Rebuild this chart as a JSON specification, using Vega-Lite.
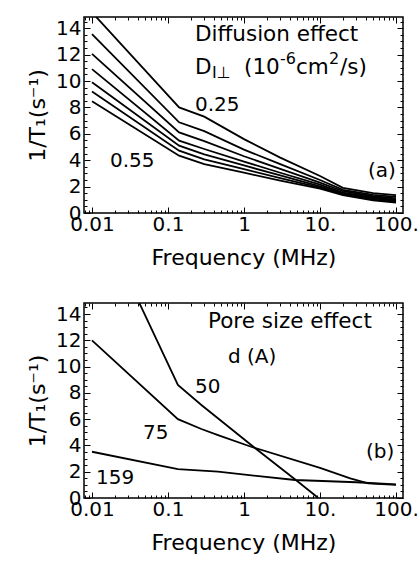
{
  "$schema": "https://vega.github.io/schema/vega-lite/v6.json",
  "padding": {"left": 25, "top": 10, "right": 5, "bottom": 5},
  "spacing": 27,
  "config": {
    "view": {"stroke": "black", "strokeWidth": 1.5},
    "font": "DejaVu Sans",
    "axis": {
      "domain": false, "grid": false, "tickColor": "black", "tickWidth": 1,
      "labelFont": "DejaVu Sans", "labelFontSize": 20, "labelColor": "black",
      "titleFont": "DejaVu Sans", "titleFontSize": 22, "titleFontWeight": "normal", "titleColor": "black",
      "labelFlush": false, "labelOverlap": false
    },
    "text": {"font": "DejaVu Sans", "color": "black"}
  },
  "vconcat": [
    {
      "width": 319, "height": 196,
      "data": {"values": [
        {"c": "1", "f": 0.01, "v": 15.2}, {"c": "1", "f": 0.14, "v": 8.0}, {"c": "1", "f": 0.3, "v": 7.3}, {"c": "1", "f": 1, "v": 5.6}, {"c": "1", "f": 3, "v": 4.2}, {"c": "1", "f": 10, "v": 2.8}, {"c": "1", "f": 20, "v": 1.9}, {"c": "1", "f": 50, "v": 1.5}, {"c": "1", "f": 100, "v": 1.35},
        {"c": "2", "f": 0.01, "v": 13.56}, {"c": "2", "f": 0.14, "v": 6.87}, {"c": "2", "f": 0.3, "v": 6.2}, {"c": "2", "f": 1, "v": 4.8}, {"c": "2", "f": 3, "v": 3.7}, {"c": "2", "f": 10, "v": 2.5}, {"c": "2", "f": 20, "v": 1.75}, {"c": "2", "f": 50, "v": 1.38}, {"c": "2", "f": 100, "v": 1.22},
        {"c": "3", "f": 0.01, "v": 12.05}, {"c": "3", "f": 0.14, "v": 6.11}, {"c": "3", "f": 0.3, "v": 5.45}, {"c": "3", "f": 1, "v": 4.3}, {"c": "3", "f": 3, "v": 3.35}, {"c": "3", "f": 10, "v": 2.3}, {"c": "3", "f": 20, "v": 1.65}, {"c": "3", "f": 50, "v": 1.27}, {"c": "3", "f": 100, "v": 1.1},
        {"c": "4", "f": 0.01, "v": 10.9}, {"c": "4", "f": 0.14, "v": 5.48}, {"c": "4", "f": 0.3, "v": 4.85}, {"c": "4", "f": 1, "v": 3.9}, {"c": "4", "f": 3, "v": 3.05}, {"c": "4", "f": 10, "v": 2.15}, {"c": "4", "f": 20, "v": 1.55}, {"c": "4", "f": 50, "v": 1.18}, {"c": "4", "f": 100, "v": 1.0},
        {"c": "5", "f": 0.01, "v": 9.9}, {"c": "5", "f": 0.14, "v": 5.1}, {"c": "5", "f": 0.3, "v": 4.45}, {"c": "5", "f": 1, "v": 3.6}, {"c": "5", "f": 3, "v": 2.85}, {"c": "5", "f": 10, "v": 2.02}, {"c": "5", "f": 20, "v": 1.48}, {"c": "5", "f": 50, "v": 1.1}, {"c": "5", "f": 100, "v": 0.92},
        {"c": "6", "f": 0.01, "v": 9.2}, {"c": "6", "f": 0.14, "v": 4.72}, {"c": "6", "f": 0.3, "v": 4.07}, {"c": "6", "f": 1, "v": 3.32}, {"c": "6", "f": 3, "v": 2.65}, {"c": "6", "f": 10, "v": 1.93}, {"c": "6", "f": 20, "v": 1.42}, {"c": "6", "f": 50, "v": 1.02}, {"c": "6", "f": 100, "v": 0.85},
        {"c": "7", "f": 0.01, "v": 8.46}, {"c": "7", "f": 0.14, "v": 4.34}, {"c": "7", "f": 0.3, "v": 3.7}, {"c": "7", "f": 1, "v": 3.05}, {"c": "7", "f": 3, "v": 2.45}, {"c": "7", "f": 10, "v": 1.85}, {"c": "7", "f": 20, "v": 1.35}, {"c": "7", "f": 50, "v": 0.95}, {"c": "7", "f": 100, "v": 0.78}
      ]},
      "resolve": {"axis": {"x": "independent", "y": "independent"}},
      "layer": [
        {
          "mark": {"type": "line", "color": "black", "strokeWidth": 1.8, "clip": true},
          "encoding": {
            "x": {"field": "f", "type": "quantitative",
              "scale": {"type": "log", "domain": [0.00785, 123.6], "nice": false},
              "axis": {"orient": "bottom", "title": "Frequency (MHz)", "titlePadding": 10, "labelPadding": 7,
                "values": [0.008,0.009,0.01,0.02,0.03,0.04,0.05,0.06,0.07,0.08,0.09,0.1,0.2,0.3,0.4,0.5,0.6,0.7,0.8,0.9,1,2,3,4,5,6,7,8,9,10,20,30,40,50,60,70,80,90,100],
                "labelExpr": "datum.value == 0.01 ? '0.01' : datum.value == 0.1 ? '0.1' : datum.value == 1 ? '1' : datum.value == 10 ? '10.' : datum.value == 100 ? '100.' : ''",
                "tickSize": {"condition": {"test": "indexof([0.01,0.1,1,10,100], datum.value) >= 0", "value": -6}, "value": -3}}},
            "y": {"field": "v", "type": "quantitative",
              "scale": {"domain": [0, 14.85], "nice": false, "zero": false},
              "axis": {"orient": "left", "title": "1/T₁(s⁻¹)", "titlePadding": 6, "labelPadding": 9,
                "values": [0,0.5,1,1.5,2,2.5,3,3.5,4,4.5,5,5.5,6,6.5,7,7.5,8,8.5,9,9.5,10,10.5,11,11.5,12,12.5,13,13.5,14,14.5],
                "labelExpr": "datum.value % 2 == 0 ? '' + datum.value : ''",
                "tickSize": {"condition": {"test": "datum.value % 2 == 0", "value": -6}, "value": -3}}},
            "detail": {"field": "c"}
          }
        },
        {
          "data": {"values": [
            {"t": "0.25", "f": 0.2265, "v": 7.73},
            {"t": "0.55", "f": 0.01725, "v": 3.46},
            {"t": "(a)", "f": 42.7, "v": 2.73}
          ]},
          "mark": {"type": "text", "fontSize": 20, "align": "left", "baseline": "alphabetic"},
          "encoding": {
            "x": {"field": "f", "type": "quantitative",
              "axis": {"orient": "top", "title": null, "labels": false,
                "values": [0.008,0.009,0.01,0.02,0.03,0.04,0.05,0.06,0.07,0.08,0.09,0.1,0.2,0.3,0.4,0.5,0.6,0.7,0.8,0.9,1,2,3,4,5,6,7,8,9,10,20,30,40,50,60,70,80,90,100],
                "tickSize": {"condition": {"test": "indexof([0.01,0.1,1,10,100], datum.value) >= 0", "value": -6}, "value": -3}}},
            "y": {"field": "v", "type": "quantitative",
              "axis": {"orient": "right", "title": null, "labels": false,
                "values": [0,0.5,1,1.5,2,2.5,3,3.5,4,4.5,5,5.5,6,6.5,7,7.5,8,8.5,9,9.5,10,10.5,11,11.5,12,12.5,13,13.5,14,14.5],
                "tickSize": {"condition": {"test": "datum.value % 2 == 0", "value": -6}, "value": -3}}},
            "text": {"field": "t"}
          }
        },
        {
          "data": {"values": [
            {"t": "Diffusion effect", "f": 0.2265, "v": 13.03},
            {"t": "D", "f": 0.2265, "v": 10.53},
            {"t": "(10", "f": 1.0, "v": 10.53},
            {"t": "cm", "f": 4.833, "v": 10.53},
            {"t": "/s)", "f": 18.33, "v": 10.53}
          ]},
          "mark": {"type": "text", "fontSize": 21.5, "align": "left", "baseline": "alphabetic"},
          "encoding": {
            "x": {"field": "f", "type": "quantitative", "axis": null},
            "y": {"field": "v", "type": "quantitative", "axis": null},
            "text": {"field": "t"}
          }
        },
        {
          "data": {"values": [
            {"t": "I⊥", "f": 0.3793, "v": 10.23},
            {"t": "-6", "f": 2.977, "v": 11.29},
            {"t": "2", "f": 13.13, "v": 11.29}
          ]},
          "mark": {"type": "text", "fontSize": 16, "align": "left", "baseline": "alphabetic"},
          "encoding": {
            "x": {"field": "f", "type": "quantitative", "axis": null},
            "y": {"field": "v", "type": "quantitative", "axis": null},
            "text": {"field": "t"}
          }
        }
      ]
    },
    {
      "width": 319, "height": 195,
      "data": {"values": [
        {"c": "50", "f": 0.01, "v": 22.5}, {"c": "50", "f": 0.135, "v": 8.6}, {"c": "50", "f": 0.275, "v": 7.08}, {"c": "50", "f": 1.38, "v": 3.83}, {"c": "50", "f": 5, "v": 1.3}, {"c": "50", "f": 9.5, "v": 0.0},
        {"c": "75", "f": 0.01, "v": 12.0}, {"c": "75", "f": 0.135, "v": 6.0}, {"c": "75", "f": 0.275, "v": 5.25}, {"c": "75", "f": 0.455, "v": 4.79}, {"c": "75", "f": 1.24, "v": 3.9}, {"c": "75", "f": 10, "v": 2.3}, {"c": "75", "f": 25, "v": 1.5}, {"c": "75", "f": 43, "v": 1.12}, {"c": "75", "f": 100, "v": 1.0},
        {"c": "159", "f": 0.01, "v": 3.52}, {"c": "159", "f": 0.135, "v": 2.2}, {"c": "159", "f": 0.455, "v": 2.0}, {"c": "159", "f": 4.7, "v": 1.37}, {"c": "159", "f": 30, "v": 1.2}, {"c": "159", "f": 100, "v": 1.04}
      ]},
      "resolve": {"axis": {"x": "independent", "y": "independent"}},
      "layer": [
        {
          "mark": {"type": "line", "color": "black", "strokeWidth": 1.8, "clip": true},
          "encoding": {
            "x": {"field": "f", "type": "quantitative",
              "scale": {"type": "log", "domain": [0.00785, 123.6], "nice": false},
              "axis": {"orient": "bottom", "title": "Frequency (MHz)", "titlePadding": 10, "labelPadding": 7,
                "values": [0.008,0.009,0.01,0.02,0.03,0.04,0.05,0.06,0.07,0.08,0.09,0.1,0.2,0.3,0.4,0.5,0.6,0.7,0.8,0.9,1,2,3,4,5,6,7,8,9,10,20,30,40,50,60,70,80,90,100],
                "labelExpr": "datum.value == 0.01 ? '0.01' : datum.value == 0.1 ? '0.1' : datum.value == 1 ? '1' : datum.value == 10 ? '10.' : datum.value == 100 ? '100.' : ''",
                "tickSize": {"condition": {"test": "indexof([0.01,0.1,1,10,100], datum.value) >= 0", "value": -6}, "value": -3}}},
            "y": {"field": "v", "type": "quantitative",
              "scale": {"domain": [0, 14.84], "nice": false, "zero": false},
              "axis": {"orient": "left", "title": "1/T₁(s⁻¹)", "titlePadding": 6, "labelPadding": 9,
                "values": [0,0.5,1,1.5,2,2.5,3,3.5,4,4.5,5,5.5,6,6.5,7,7.5,8,8.5,9,9.5,10,10.5,11,11.5,12,12.5,13,13.5,14,14.5],
                "labelExpr": "datum.value % 2 == 0 ? '' + datum.value : ''",
                "tickSize": {"condition": {"test": "datum.value % 2 == 0", "value": -6}, "value": -3}}},
            "detail": {"field": "c"}
          }
        },
        {
          "data": {"values": [
            {"t": "d (A)", "f": 0.615, "v": 10.25},
            {"t": "50", "f": 0.2265, "v": 7.97},
            {"t": "75", "f": 0.0469, "v": 4.47},
            {"t": "159", "f": 0.0113, "v": 1.07},
            {"t": "(b)", "f": 40.3, "v": 3.02}
          ]},
          "mark": {"type": "text", "fontSize": 20, "align": "left", "baseline": "alphabetic"},
          "encoding": {
            "x": {"field": "f", "type": "quantitative",
              "axis": {"orient": "top", "title": null, "labels": false,
                "values": [0.008,0.009,0.01,0.02,0.03,0.04,0.05,0.06,0.07,0.08,0.09,0.1,0.2,0.3,0.4,0.5,0.6,0.7,0.8,0.9,1,2,3,4,5,6,7,8,9,10,20,30,40,50,60,70,80,90,100],
                "tickSize": {"condition": {"test": "indexof([0.01,0.1,1,10,100], datum.value) >= 0", "value": -6}, "value": -3}}},
            "y": {"field": "v", "type": "quantitative",
              "axis": {"orient": "right", "title": null, "labels": false,
                "values": [0,0.5,1,1.5,2,2.5,3,3.5,4,4.5,5,5.5,6,6.5,7,7.5,8,8.5,9,9.5,10,10.5,11,11.5,12,12.5,13,13.5,14,14.5],
                "tickSize": {"condition": {"test": "datum.value % 2 == 0", "value": -6}, "value": -3}}},
            "text": {"field": "t"}
          }
        },
        {
          "data": {"values": [
            {"t": "Pore size effect", "f": 0.336, "v": 12.91}
          ]},
          "mark": {"type": "text", "fontSize": 21.5, "align": "left", "baseline": "alphabetic"},
          "encoding": {
            "x": {"field": "f", "type": "quantitative", "axis": null},
            "y": {"field": "v", "type": "quantitative", "axis": null},
            "text": {"field": "t"}
          }
        }
      ]
    }
  ]
}
